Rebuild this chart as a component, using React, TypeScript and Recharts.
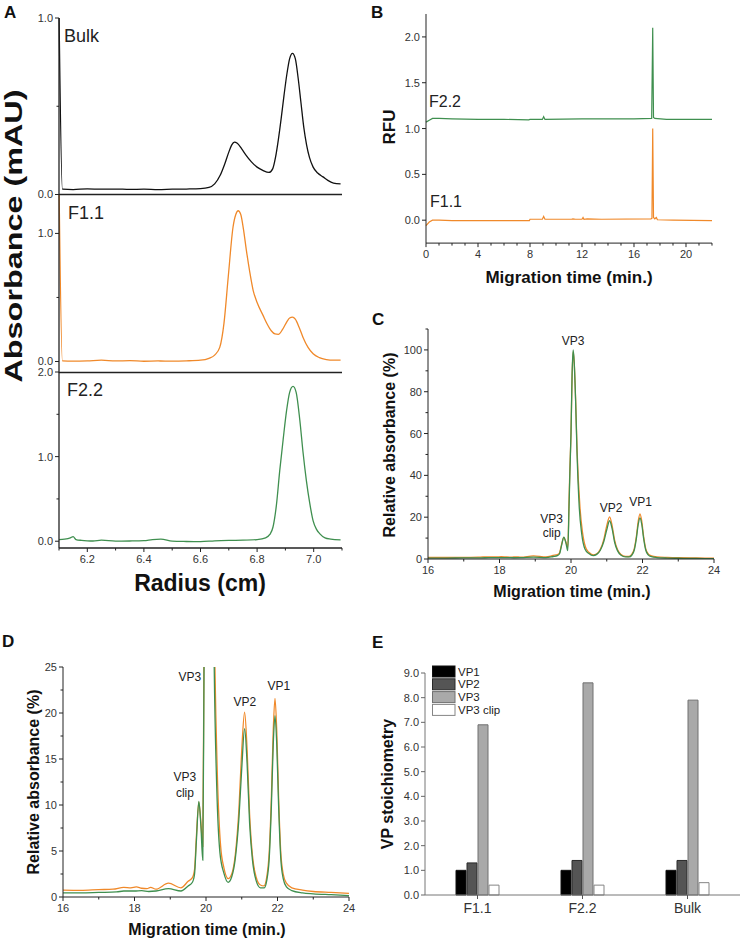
import React from 'react';
import { LineChart, Line, XAxis, YAxis, BarChart, Bar, ReferenceDot } from 'recharts';

type Pt = [number, number];

// ---------- A: sedimentation scans, radius (cm) vs absorbance
const A_BULK: Pt[] = [
  [6.1, 1.05], [6.112, 0.03], [6.15, 0.028], [6.2, 0.032], [6.25, 0.03], [6.3, 0.031], [6.35, 0.029],
  [6.4, 0.03], [6.45, 0.028], [6.5, 0.03], [6.55, 0.031], [6.6, 0.033], [6.63, 0.04], [6.65, 0.06],
  [6.67, 0.11], [6.685, 0.17], [6.7, 0.24], [6.71, 0.28], [6.72, 0.297], [6.73, 0.29], [6.745, 0.26],
  [6.76, 0.225], [6.78, 0.185], [6.8, 0.155], [6.82, 0.137], [6.842, 0.125], [6.855, 0.145],
  [6.865, 0.21], [6.875, 0.31], [6.885, 0.43], [6.895, 0.56], [6.905, 0.68], [6.915, 0.77],
  [6.925, 0.8], [6.935, 0.77], [6.945, 0.66], [6.955, 0.52], [6.965, 0.38], [6.975, 0.28],
  [6.985, 0.21], [6.998, 0.155], [7.015, 0.12], [7.033, 0.1], [7.05, 0.08], [7.07, 0.065], [7.095, 0.06],
];
const A_F11: Pt[] = [
  [6.1, 1.4], [6.112, 0.005], [6.15, 0.003], [6.2, 0.005], [6.25, 0.01], [6.3, 0.004], [6.35, 0.006],
  [6.4, 0.002], [6.45, 0.004], [6.5, 0.003], [6.55, 0.005], [6.6, 0.01], [6.63, 0.025], [6.65, 0.05],
  [6.668, 0.11], [6.683, 0.3], [6.698, 0.66], [6.715, 1.05], [6.725, 1.15], [6.733, 1.177],
  [6.742, 1.15], [6.752, 1.03], [6.762, 0.87], [6.774, 0.7], [6.786, 0.556], [6.8, 0.46],
  [6.821, 0.36], [6.835, 0.295], [6.85, 0.24], [6.863, 0.215], [6.875, 0.212], [6.89, 0.25],
  [6.905, 0.31], [6.915, 0.34], [6.925, 0.347], [6.935, 0.33], [6.948, 0.27], [6.962, 0.19],
  [6.98, 0.11], [6.998, 0.06], [7.02, 0.03], [7.045, 0.015], [7.07, 0.01], [7.095, 0.01],
];
const A_F22: Pt[] = [
  [6.1, 0.02], [6.12, 0.025], [6.14, 0.04], [6.15, 0.055], [6.16, 0.02], [6.18, 0.01], [6.2, 0.005],
  [6.22, 0.003], [6.25, 0.012], [6.3, 0.002], [6.35, 0.003], [6.4, 0.006], [6.43, 0.02], [6.46, 0.025],
  [6.5, 0.002], [6.55, -0.003], [6.6, -0.005], [6.65, 0.005], [6.7, 0.01], [6.75, 0.012], [6.8, 0.02],
  [6.83, 0.04], [6.845, 0.08], [6.856, 0.165], [6.868, 0.42], [6.88, 0.835], [6.892, 1.2],
  [6.904, 1.54], [6.915, 1.76], [6.927, 1.83], [6.938, 1.76], [6.951, 1.43], [6.962, 1.06],
  [6.974, 0.72], [6.986, 0.45], [6.998, 0.24], [7.01, 0.14], [7.021, 0.09], [7.04, 0.04],
  [7.06, 0.025], [7.095, 0.015],
];
const A_X_TICKS = [6.1, 6.2, 6.3, 6.4, 6.5, 6.6, 6.7, 6.8, 6.9, 7.0, 7.1];
const A_X_LABELS = [6.2, 6.4, 6.6, 6.8, 7.0];

// ---------- B: fluorescence electropherograms
const B_F22: Pt[] = [
  [0, 1.07], [0.25, 1.09], [0.5, 1.11], [1, 1.11], [2, 1.105], [4, 1.1], [6, 1.1], [7.9, 1.095],
  [8, 1.1], [8.95, 1.1], [9.05, 1.13], [9.15, 1.1], [12, 1.105], [14, 1.105], [16, 1.105],
  [17.36, 1.11], [17.44, 2.1], [17.5, 1.12], [17.6, 1.11], [18.5, 1.1], [22, 1.1],
];
const B_F11: Pt[] = [
  [0, -0.06], [0.25, -0.02], [0.5, 0.0], [1, 0.0], [2, -0.005], [4, -0.005], [6, -0.005],
  [7.95, -0.005], [8, 0.01], [8.95, 0.01], [9.05, 0.04], [9.15, 0.01], [11.2, 0.01], [11.3, 0.015],
  [11.5, 0.01], [12, 0.01], [12.08, 0.03], [12.15, 0.01], [12.4, 0.015], [13.5, 0.01], [17.3, 0.015],
  [17.38, 0.02], [17.44, 1.0], [17.5, 0.03], [17.6, 0.015], [17.72, 0.03], [17.8, 0.005], [19, 0.0],
  [22, -0.005],
];
const B_X_TICKS = [0, 1, 2, 3, 4, 5, 6, 7, 8, 9, 10, 11, 12, 13, 14, 15, 16, 17, 18, 19, 20, 21, 22];
const B_X_LABELS = [0, 4, 8, 12, 16, 20];
const B_Y_TICKS = [0, 0.5, 1.0, 1.5, 2.0];

// ---------- C / D: capillary electrophoresis, relative absorbance
const CD_F11: Pt[] = [
  [16, 0.75], [16.5, 0.72], [17, 0.8], [17.4, 0.85], [17.7, 1.05], [17.9, 1.0], [18.05, 1.1],
  [18.2, 0.95], [18.35, 0.9], [18.45, 1.05], [18.6, 0.85], [18.95, 1.5], [19.3, 1.0], [19.5, 1.7],
  [19.62, 2.1], [19.68, 3], [19.73, 6.5], [19.8, 10.3], [19.86, 8], [19.91, 5.5], [19.945, 28],
  [19.97, 44], [20.0, 60], [20.03, 87], [20.06, 99], [20.09, 94], [20.13, 76], [20.17, 52],
  [20.25, 25], [20.32, 13], [20.41, 5.5], [20.5, 3.2], [20.62, 2.0], [20.72, 2.5], [20.82, 4.6],
  [20.92, 9.5], [21.0, 16], [21.08, 20.1], [21.15, 16], [21.22, 9], [21.3, 4.5], [21.4, 2.2],
  [21.52, 1.3], [21.62, 1.2], [21.7, 2.2], [21.77, 5], [21.83, 11], [21.88, 18], [21.93, 21.6],
  [21.98, 18], [22.03, 11], [22.09, 5], [22.16, 2.5], [22.25, 1.5], [22.4, 1.0], [22.7, 0.75],
  [23, 0.6], [23.5, 0.5], [24, 0.4],
];
const CD_F22: Pt[] = [
  [16, 0.45], [16.5, 0.45], [17, 0.5], [17.5, 0.55], [17.7, 0.65], [18, 0.65], [18.2, 0.7],
  [18.4, 0.6], [18.6, 0.65], [18.95, 0.9], [19.3, 0.65], [19.5, 1.2], [19.62, 1.6], [19.68, 2.5],
  [19.73, 6], [19.8, 10.4], [19.86, 7.5], [19.91, 4], [19.945, 25], [19.97, 42], [20.0, 60],
  [20.03, 88], [20.06, 100], [20.09, 94], [20.13, 75], [20.17, 50], [20.23, 25], [20.3, 12],
  [20.39, 4.8], [20.5, 2.6], [20.62, 1.6], [20.72, 2.2], [20.82, 4.2], [20.92, 8.5], [21.0, 14],
  [21.08, 18.3], [21.15, 14.5], [21.22, 8], [21.3, 4], [21.4, 1.8], [21.52, 1.0], [21.63, 1.0],
  [21.7, 1.8], [21.77, 4.3], [21.83, 10], [21.88, 16.5], [21.93, 19.7], [21.98, 16.5], [22.03, 10],
  [22.09, 4.3], [22.16, 2], [22.25, 1.1], [22.4, 0.7], [22.7, 0.45], [23, 0.35], [23.5, 0.25],
  [24, 0.15],
];
const CD_X_TICKS = [16, 17, 18, 19, 20, 21, 22, 23, 24];
const CD_X_LABELS = [16, 18, 20, 22, 24];
const C_Y_TICKS = [0, 10, 20, 30, 40, 50, 60, 70, 80, 90, 100, 110];
const C_Y_LABELS = [0, 20, 40, 60, 80, 100];
const D_Y_TICKS = [0, 2.5, 5, 7.5, 10, 12.5, 15, 17.5, 20, 22.5, 25];
const D_Y_LABELS = [0, 5, 10, 15, 20, 25];
const C_PEAKS = [
  { x: 20.06, y: 102.4, lines: ['VP3'] },
  { x: 21.12, y: 22.6, lines: ['VP2'] },
  { x: 21.95, y: 25.5, lines: ['VP1'] },
  { x: 19.46, y: 17.1, lines: ['VP3', 'clip'] },
];
const D_PEAKS = [
  { x: 19.55, y: 23.5, lines: ['VP3'] },
  { x: 21.09, y: 20.8, lines: ['VP2'] },
  { x: 22.04, y: 22.5, lines: ['VP1'] },
  { x: 19.41, y: 12.6, lines: ['VP3', 'clip'] },
];

// ---------- E: VP stoichiometry
const E_SAMPLES = ['F1.1', 'F2.2', 'Bulk'];
const E_VP1 = [1.0, 1.0, 1.0];
const E_VP2 = [1.3, 1.4, 1.4];
const E_VP3 = [6.9, 8.6, 7.9];
const E_CLIP = [0.4, 0.4, 0.5];
const E_Y_TICKS = [0, 1, 2, 3, 4, 5, 6, 7, 8, 9];

const E_ROWS = E_SAMPLES.map((s, i) => ({
  sample: s, VP1: E_VP1[i], VP2: E_VP2[i], VP3: E_VP3[i], clip: E_CLIP[i],
}));
const E_SERIES = [
  { key: 'VP1', name: 'VP1', fill: '#000000', stroke: '#111111' },
  { key: 'VP2', name: 'VP2', fill: '#555555', stroke: '#2a2a2a' },
  { key: 'VP3', name: 'VP3', fill: '#a9a9a9', stroke: '#707070' },
  { key: 'clip', name: 'VP3 clip', fill: '#ffffff', stroke: '#858585' },
];

const FONT = '"Liberation Sans", Arial, Helvetica, sans-serif';
const AXIS = '#222';
const TXT = '#333';
const ORANGE = '#f0892a';
const GREEN = '#3f8f4f';

const toRows = (pts: Pt[]) => pts.map(([x, y]) => ({ x, y }));

type Box = { x0: number; y0: number; x1: number; y1: number };
const ML = 40, MR = 10, MT = 12, MB = 30;

// plot rect -> chart position so that the plot area lands on the box
function frame(b: Box) {
  return {
    style: { position: 'absolute' as const, left: b.x0 - ML - 1, top: b.y0 - MT },
    width: b.x1 - b.x0 + ML + MR + 1,
    height: b.y1 - b.y0 + MT + MB + 1,
    margin: { top: MT, right: MR, bottom: MB, left: ML },
  };
}

const near = (arr: number[], v: number) => arr.some((a) => Math.abs(a - v) < 1e-6);

function yTick(labels: number[], digits: number, color = AXIS, fs = 11) {
  return (p: any) => {
    const v = Number(p.payload.value);
    const major = near(labels, v);
    const len = major ? 4 : 2.5;
    return (
      <g>
        <line x1={p.x - len} x2={p.x} y1={p.y} y2={p.y} stroke={color} strokeWidth={1} />
        {major && (
          <text x={p.x - len - 2} y={p.y} dy="0.36em" textAnchor="end" fontSize={fs}
            fontFamily={FONT} fill={TXT}>
            {v.toFixed(digits)}
          </text>
        )}
      </g>
    );
  };
}

function xTick(labels: number[] | null, digits: number, color = AXIS, fs = 11) {
  return (p: any) => {
    const raw = p.payload.value;
    const major = labels === null || near(labels, Number(raw));
    const len = major ? 4 : 2.5;
    return (
      <g>
        <line x1={p.x} x2={p.x} y1={p.y} y2={p.y + len} stroke={color} strokeWidth={1} />
        {major && (
          <text x={p.x} y={p.y + len + fs} textAnchor="middle" fontSize={fs}
            fontFamily={FONT} fill={TXT}>
            {labels === null ? raw : Number(raw).toFixed(digits)}
          </text>
        )}
      </g>
    );
  };
}

function peakLabel(lines: string[], gap: number) {
  return (props: any) => {
    const vb = props.viewBox || {};
    const cx = (vb.x ?? 0) + (vb.width ?? 0) / 2;
    const cy = (vb.y ?? 0) + (vb.height ?? 0) / 2;
    return (
      <text x={cx} y={cy} textAnchor="middle" fontSize={12} fontFamily={FONT} fill="#222">
        {lines.map((l, i) => (
          <tspan key={i} x={cx} dy={i === 0 ? 0 : gap}>{l}</tspan>
        ))}
      </text>
    );
  };
}

// one trace of panel A
function ScanPanel(props: {
  box: Box; pts: Pt[]; color: string; yDomain: [number, number]; yTicks: number[];
  yLabels: number[]; showX: boolean;
}) {
  const f = frame(props.box);
  return (
    <div style={f.style}>
      <LineChart width={f.width} height={f.height} margin={f.margin}>
        <XAxis type="number" dataKey="x" domain={[6.1, 7.1]} ticks={A_X_TICKS} interval={0}
          height={1} tickSize={0} tickMargin={0} tickLine={false}
          axisLine={{ stroke: AXIS, strokeWidth: 1.3 }}
          tick={props.showX ? xTick(A_X_LABELS, 1) : false} />
        <YAxis type="number" domain={props.yDomain} ticks={props.yTicks} interval={0}
          allowDataOverflow width={1} tickSize={0} tickMargin={0} tickLine={false}
          axisLine={{ stroke: AXIS, strokeWidth: 1.3 }} tick={yTick(props.yLabels, 1)} />
        <Line data={toRows(props.pts)} dataKey="y" type="monotone" stroke={props.color}
          strokeWidth={1.3} dot={false} isAnimationActive={false} />
      </LineChart>
    </div>
  );
}

function CePanel(props: {
  box: Box; yDomain: [number, number]; yTicks: number[]; yLabels: number[];
  peaks: { x: number; y: number; lines: string[] }[]; gap: number;
}) {
  const f = frame(props.box);
  return (
    <div style={f.style}>
      <LineChart width={f.width} height={f.height} margin={f.margin}>
        <XAxis type="number" dataKey="x" domain={[16, 24]} ticks={CD_X_TICKS} interval={0}
          height={1} tickSize={0} tickMargin={0} tickLine={false}
          axisLine={{ stroke: AXIS }} tick={xTick(CD_X_LABELS, 0)} />
        <YAxis type="number" domain={props.yDomain} ticks={props.yTicks} interval={0}
          allowDataOverflow width={1} tickSize={0} tickMargin={0} tickLine={false}
          axisLine={{ stroke: AXIS }} tick={yTick(props.yLabels, 0)} />
        <Line data={toRows(CD_F11)} dataKey="y" type="monotone" stroke={ORANGE}
          strokeWidth={1.3} dot={false} isAnimationActive={false} />
        <Line data={toRows(CD_F22)} dataKey="y" type="monotone" stroke={GREEN}
          strokeWidth={1.3} dot={false} isAnimationActive={false} />
        {props.peaks.map((p, i) => (
          <ReferenceDot key={i} x={p.x} y={p.y} r={0} fill="none" stroke="none"
            ifOverflow="visible" label={peakLabel(p.lines, props.gap)} />
        ))}
      </LineChart>
    </div>
  );
}

export default function App() {
  const bBox: Box = { x0: 426, y0: 13.5, x1: 712, y1: 242.6 };
  const eBox: Box = { x0: 424.5, y0: 673, x1: 739.5, y1: 895 };
  const fb = frame(bBox);
  const fe = frame(eBox);
  const bold = { fontFamily: FONT, fontWeight: 700, fill: '#111' };

  return (
    <div style={{ position: 'absolute', left: 0, top: 0, width: 741, height: 940, overflow: 'hidden',
      background: '#fff', fontFamily: FONT }}>
      {/* A */}
      <ScanPanel box={{ x0: 59, y0: 18, x1: 342, y1: 194.5 }} pts={A_BULK} color="#111"
        yDomain={[0, 1]} yTicks={[0, 0.5, 1]} yLabels={[0, 1]} showX={false} />
      <ScanPanel box={{ x0: 59, y0: 194.5, x1: 342, y1: 372 }} pts={A_F11} color={ORANGE}
        yDomain={[-0.086, 1.3]} yTicks={[0, 0.5, 1]} yLabels={[0, 1]} showX={false} />
      <ScanPanel box={{ x0: 59, y0: 372, x1: 342, y1: 548 }} pts={A_F22} color={GREEN}
        yDomain={[-0.08, 2]} yTicks={[0, 0.5, 1, 1.5, 2]} yLabels={[0, 1, 2]} showX />

      {/* B */}
      <div style={fb.style}>
        <LineChart width={fb.width} height={fb.height} margin={fb.margin}>
          <XAxis type="number" dataKey="x" domain={[0, 22]} ticks={B_X_TICKS} interval={0}
            height={1} tickSize={0} tickMargin={0} tickLine={false}
            axisLine={{ stroke: AXIS }} tick={xTick(B_X_LABELS, 0)} />
          <YAxis type="number" domain={[-0.25, 2.25]} ticks={B_Y_TICKS} interval={0}
            width={1} tickSize={0} tickMargin={0} tickLine={false}
            axisLine={{ stroke: AXIS }} tick={yTick(B_Y_TICKS, 1)} />
          <Line data={toRows(B_F11)} dataKey="y" type="linear" stroke={ORANGE}
            strokeWidth={1.2} dot={false} isAnimationActive={false} />
          <Line data={toRows(B_F22)} dataKey="y" type="linear" stroke={GREEN}
            strokeWidth={1.2} dot={false} isAnimationActive={false} />
        </LineChart>
      </div>

      {/* C */}
      <CePanel box={{ x0: 428, y0: 329, x1: 714, y1: 559 }} yDomain={[0, 110]}
        yTicks={C_Y_TICKS} yLabels={C_Y_LABELS} peaks={C_PEAKS} gap={14} />

      {/* D */}
      <CePanel box={{ x0: 63, y0: 667, x1: 349, y1: 897 }} yDomain={[0, 25]}
        yTicks={D_Y_TICKS} yLabels={D_Y_LABELS} peaks={D_PEAKS} gap={16} />

      {/* E */}
      <div style={fe.style}>
        <BarChart width={fe.width} height={fe.height} margin={fe.margin} data={E_ROWS}
          barSize={10} barGap={1}>
          <XAxis dataKey="sample" type="category" height={1} tickSize={0} tickMargin={0}
            tickLine={false} axisLine={{ stroke: '#777' }} interval={0}
            tick={xTick(null, 0, '#555', 14)} />
          <YAxis type="number" domain={[0, 9]} ticks={E_Y_TICKS} interval={0} width={1}
            tickSize={0} tickMargin={0} tickLine={false} axisLine={{ stroke: '#777' }}
            tick={yTick(E_Y_TICKS, 1, '#666')} />
          {E_SERIES.map((s) => (
            <Bar key={s.key} dataKey={s.key} name={s.name} fill={s.fill} stroke={s.stroke}
              strokeWidth={1} isAnimationActive={false} />
          ))}
        </BarChart>
      </div>

      {/* titles, panel letters, legend */}
      <svg width={741} height={940} style={{ position: 'absolute', left: 0, top: 0, pointerEvents: 'none' }}>
        <text x={4} y={18} fontSize={17} {...bold}>A</text>
        <text x={371} y={18} fontSize={17} {...bold}>B</text>
        <text x={372} y={325} fontSize={17} {...bold}>C</text>
        <text x={2} y={647} fontSize={17} {...bold}>D</text>
        <text x={372} y={648} fontSize={17} {...bold}>E</text>

        <text transform="translate(22,236) rotate(-90)" textAnchor="middle" fontSize={23}
          textLength={293} lengthAdjust="spacingAndGlyphs" {...bold}>Absorbance (mAU)</text>
        <text x={200} y={591} textAnchor="middle" fontSize={23} {...bold}>Radius (cm)</text>
        <text x={64} y={42} fontSize={18} fontFamily={FONT} fill="#222">Bulk</text>
        <text x={68} y={219} fontSize={18} fontFamily={FONT} fill="#222">F1.1</text>
        <text x={67} y={396} fontSize={18} fontFamily={FONT} fill="#222">F2.2</text>

        <text transform="translate(395,127) rotate(-90)" textAnchor="middle" fontSize={17} {...bold}>RFU</text>
        <text x={569} y={283} textAnchor="middle" fontSize={17} {...bold}>Migration time (min.)</text>
        <text x={429} y={107} fontSize={16} fontFamily={FONT} fill="#222">F2.2</text>
        <text x={430} y={207} fontSize={16} fontFamily={FONT} fill="#222">F1.1</text>

        <text transform="translate(395,445) rotate(-90)" textAnchor="middle" fontSize={16} {...bold}>Relative absorbance (%)</text>
        <text x={572} y={597} textAnchor="middle" fontSize={16} {...bold}>Migration time (min.)</text>

        <text transform="translate(39,782) rotate(-90)" textAnchor="middle" fontSize={16} {...bold}>Relative absorbance (%)</text>
        <text x={207} y={935} textAnchor="middle" fontSize={16} {...bold}>Migration time (min.)</text>

        <text transform="translate(393,784) rotate(-90)" textAnchor="middle" fontSize={16} {...bold}>VP stoichiometry</text>
        {E_SERIES.map((s, i) => (
          <g key={s.key}>
            <rect x={432.5} y={666 + i * 12.8} width={22.5} height={11} fill={s.fill} stroke={s.stroke} />
            <text x={458} y={675.5 + i * 12.8} fontSize={11.5} fontFamily={FONT} fill="#222">{s.name}</text>
          </g>
        ))}
      </svg>
    </div>
  );
}
